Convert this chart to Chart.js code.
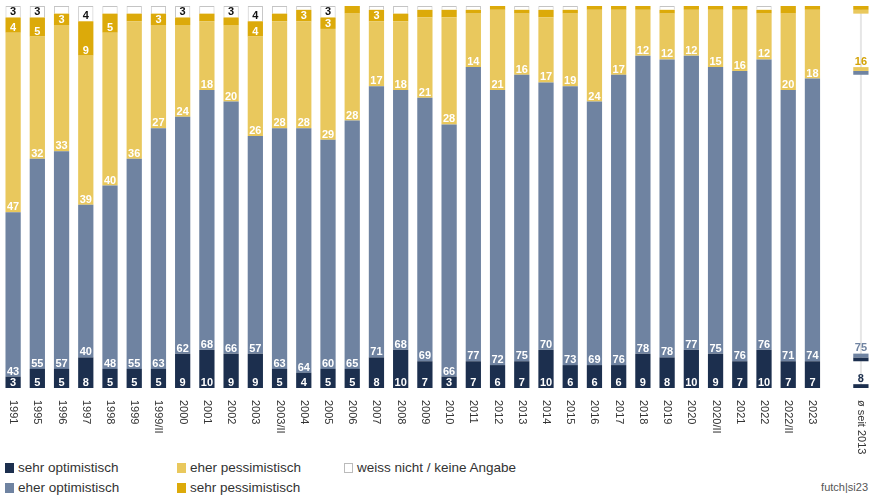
<!DOCTYPE html>
<html>
<head>
<meta charset="utf-8">
<script src="https://cdn.jsdelivr.net/npm/chart.js@4"></script>
<style>
  body { margin: 0; background: #fff; font-family: "Liberation Sans", Arial, sans-serif; }
  #wrap { position: relative; width: 873px; height: 501px; overflow: hidden; }
  canvas { position: absolute; left: 0; top: 0; }
  .leg { position: absolute; font-size: 13.5px; color: #333; white-space: nowrap; line-height: 16px; }
  .leg i { position: absolute; left: -13px; top: 3px; width: 9px; height: 10px; box-sizing: border-box; }
  #src { position: absolute; right: 5px; top: 481px; font-size: 11px; color: #555; }
</style>
</head>
<body>
<div id="wrap">
  <canvas id="myChart" width="873" height="455"></canvas>
  <div class="leg" style="left:18px;top:460px"><i style="background:#1c2f4e"></i>sehr optimistisch</div>
  <div class="leg" style="left:18px;top:480px"><i style="background:#6f83a1"></i>eher optimistisch</div>
  <div class="leg" style="left:190px;top:460px"><i style="background:#e9c85d"></i>eher pessimistisch</div>
  <div class="leg" style="left:190px;top:480px"><i style="background:#dcaa0a"></i>sehr pessimistisch</div>
  <div class="leg" style="left:357px;top:460px"><i style="background:#fff;border:1px solid #bbb"></i>weiss nicht / keine Angabe</div>
  <div id="src">futch|si23</div>
</div>
<script>
// Werte in Prozent, von unten nach oben gestapelt
const years = ["1991", "1995", "1996", "1997", "1998", "1999", "1999/II", "2000", "2001", "2002",
  "2003", "2003/II", "2004", "2005", "2006", "2007", "2008", "2009", "2010", "2011", "2012",
  "2013", "2014", "2015", "2016", "2017", "2018", "2019", "2020", "2020/II", "2021", "2022",
  "2022/II", "2023"];
const sehrOpt = [3, 5, 5, 8, 5, 5, 5, 9, 10, 9, 9, 5, 4, 5, 5, 8, 10, 7, 3, 7, 6,
  7, 10, 6, 6, 6, 9, 8, 10, 9, 7, 10, 7, 7];
const eherOpt = [43, 55, 57, 40, 48, 55, 63, 62, 68, 66, 57, 63, 64, 60, 65, 71, 68, 69, 66, 77, 72,
  75, 70, 73, 69, 76, 78, 78, 77, 75, 76, 76, 71, 74];
const eherPess = [47, 32, 33, 39, 40, 36, 27, 24, 18, 20, 26, 28, 28, 29, 28, 17, 18, 21, 28, 14, 21,
  16, 17, 19, 24, 17, 12, 12, 12, 15, 16, 12, 20, 18];
const sehrPess = [4, 5, 3, 9, 5, 2, 3, 2, 2, 2, 4, 2, 3, 3, 2, 3, 2, 2, 2, 1, 1,
  1, 2, 1, 1, 1, 1, 1, 1, 1, 1, 1, 2, 1];
const weissNicht = [3, 3, 2, 4, 2, 2, 2, 3, 2, 3, 4, 2, 1, 3, 0, 1, 2, 1, 1, 1, 0,
  1, 1, 1, 0, 0, 0, 1, 0, 0, 0, 1, 0, 0];
// Durchschnitt seit 2013
const avgLabel = "ø seit 2013";
const avgValues = [8, 75, 16, 1, 0];

const colors = ["#1c2f4e", "#6f83a1", "#e9c85d", "#dcaa0a", "#ffffff"];
const avgTextColors = ["#1c2f4e", "#6f83a1", "#d4a307", "#d4a307", "#111"];
const names = ["sehr optimistisch", "eher optimistisch", "eher pessimistisch", "sehr pessimistisch", "weiss nicht / keine Angabe"];
const series = [sehrOpt, eherOpt, eherPess, sehrPess, weissNicht];

const labels = years.concat(["", avgLabel]);
const avgIndex = labels.length - 1;

const FONT = '"Liberation Sans", Arial, sans-serif';

// Zahlen in den Segmenten, Durchschnittsbalken und gedrehte Achsenbeschriftung
const extras = {
  id: "extras",
  beforeDatasetsDraw(chart) {
    const ctx = chart.ctx;
    const x = chart.scales.x.getPixelForValue(avgIndex);
    const area = chart.chartArea;
    ctx.save();
    ctx.fillStyle = "#e6e6e6";
    ctx.fillRect(x - 1, area.top, 2, area.bottom - area.top);
    ctx.restore();
  },
  afterDatasetsDraw(chart) {
    const ctx = chart.ctx;
    const xs = chart.scales.x;
    const ys = chart.scales.y;
    ctx.save();
    ctx.font = "bold 11px " + FONT;
    ctx.textAlign = "center";
    ctx.textBaseline = "alphabetic";
    chart.data.datasets.forEach((ds, i) => {
      const meta = chart.getDatasetMeta(i);
      meta.data.forEach((bar, j) => {
        const v = ds.data[j];
        if (v == null || v < 3) return;
        ctx.fillStyle = i === 4 ? "#111" : "#fff";
        ctx.fillText(v, bar.x, bar.base - 2);
      });
    });

    // Durchschnitt: nur kurze Kappen an den Segmentgrenzen
    const w = chart.getDatasetMeta(0).data[0].width;
    const cx = xs.getPixelForValue(avgIndex);
    let start = 0;
    avgValues.forEach((v, i) => {
      if (v <= 0) return;
      const end = start + v;
      ctx.fillStyle = colors[i];
      const cap = Math.min(1, v / 2);
      const caps = v <= 2 ? [[start, end]] : [[start, start + cap], [end - cap, end]];
      caps.forEach(([a, b]) => {
        const p1 = ys.getPixelForValue(a);
        const p2 = ys.getPixelForValue(b);
        ctx.fillRect(cx - w / 2, p2, w, p1 - p2);
      });
      if (v >= 3) {
        ctx.fillStyle = avgTextColors[i];
        ctx.fillText(v, cx, ys.getPixelForValue(start) - 6);
      }
      start = end;
    });

    ctx.font = "11px " + FONT;
    ctx.fillStyle = "#333";
    ctx.textAlign = "left";
    ctx.textBaseline = "middle";
    labels.forEach((lab, i) => {
      if (!lab) return;
      ctx.save();
      ctx.translate(xs.getPixelForValue(i), chart.chartArea.bottom + 12);
      ctx.rotate(Math.PI / 2);
      ctx.fillText(lab, 0, 0);
      ctx.restore();
    });
    ctx.restore();
  }
};

const chart = document.getElementById("myChart").getContext("2d");
const myChart = new Chart(chart, {
  type: "bar",
  data: {
    labels: labels,
    datasets: series.map((vals, i) => ({
      label: names[i],
      data: vals.concat([null, null]),
      backgroundColor: colors[i],
      borderColor: i === 4 ? "#c4c4c4" : colors[i],
      borderWidth: i === 4 ? 1 : 0,
      barPercentage: 0.63,
      categoryPercentage: 1
    }))
  },
  options: {
    responsive: false,
    animation: false,
    layout: { padding: { top: 6, bottom: 67, left: 1, right: 0 } },
    plugins: { legend: { display: false }, tooltip: { enabled: false } },
    scales: {
      x: { stacked: true, display: false },
      y: { stacked: true, display: false, min: 0, max: 100 }
    }
  },
  plugins: [extras]
});
window.myChart = myChart;
</script>
</body>
</html>
